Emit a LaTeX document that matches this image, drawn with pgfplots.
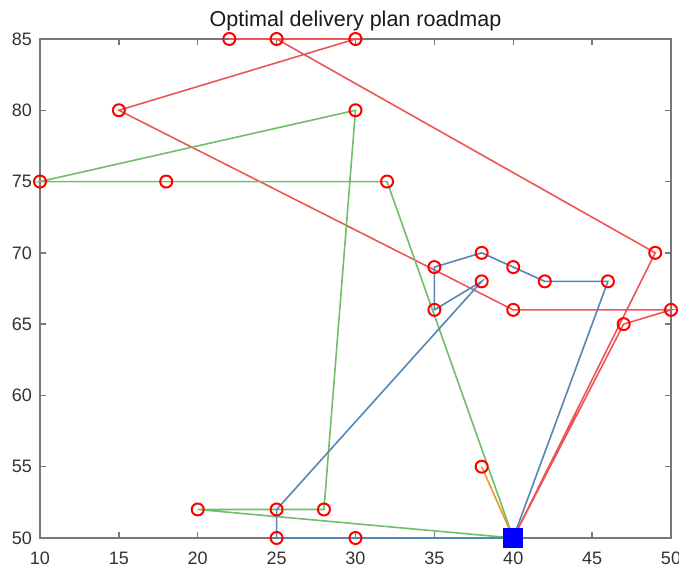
\documentclass[border=0pt]{standalone}
\usepackage{pgfplots}
\pgfplotsset{compat=1.18}
\usepackage{fontspec}
\setmainfont{Liberation Sans}

\definecolor{routeRed}{RGB}{236,86,86}
\definecolor{routeBlue}{RGB}{86,134,178}
\definecolor{routeGreen}{RGB}{112,190,104}
\definecolor{routeOrange}{RGB}{242,150,44}
\definecolor{axisgray}{RGB}{120,120,120}
\definecolor{labelgray}{RGB}{50,50,50}

\begin{document}
\begin{tikzpicture}
\begin{axis}[
  scale only axis,
  width=315.5pt, height=249.5pt,
  xmin=10, xmax=50, ymin=50, ymax=85,
  xtick={10,15,...,50}, ytick={50,55,...,85},
  tick align=inside,
  major tick length=3pt,
  xtick pos=both, ytick pos=both,
  xticklabel pos=bottom, yticklabel pos=left,
  axis line style={draw=axisgray, line width=1pt},
  every tick/.style={draw=axisgray, line width=0.7pt},
  tick label style={font=\fontsize{9}{10}\selectfont, text=labelgray},
  /pgf/number format/assume math mode=true,
  xticklabel style={yshift=-3.3pt},
  yticklabel style={xshift=-0.5pt},
  title={Optimal delivery plan roadmap},
  title style={font=\fontsize{10.75}{12}\selectfont, text=black!90,
    at={(0.5,1)}, anchor=base},
  clip=false,
  every axis plot/.append style={line width=0.8pt},
]
% vehicle routes, each starting and ending at the depot (40,50)
\addplot[routeRed, no markers] coordinates {
  (40,50) (47,65) (50,66) (40,66) (15,80) (30,85) (22,85) (25,85) (49,70) (40,50)
};
\addplot[routeGreen, no markers] coordinates {
  (40,50) (20,52) (28,52) (30,80) (10,75) (18,75) (32,75) (40,50)
};
\addplot[routeBlue, no markers] coordinates {
  (40,50) (30,50) (25,50) (25,52) (38,68) (35,66) (35,69) (38,70) (40,69) (42,68) (46,68) (40,50)
};
\addplot[routeOrange, no markers] coordinates {
  (40,50) (38,55) (40,50)
};
% customers
\addplot[only marks, mark=o, mark size=3pt, red, mark options={line width=1pt}] coordinates {
  (22,85) (25,85) (30,85)
  (15,80) (30,80)
  (10,75) (18,75) (32,75)
  (49,70) (35,69) (38,70) (40,69) (42,68) (46,68) (38,68)
  (35,66) (40,66) (50,66) (47,65)
  (38,55)
  (20,52) (25,52) (28,52)
  (25,50) (30,50)
};
% depot
\addplot[only marks, mark=square*, mark size=4.5pt, blue,
  mark options={fill=blue, draw=blue, rounded corners=1pt}] coordinates {(40,50)};
\coordinate (ll) at (rel axis cs:0,0);
\coordinate (ur) at (rel axis cs:1,1);
\end{axis}
\pgfresetboundingbox
\path[use as bounding box] ([shift={(-20pt,-15pt)}]ll) rectangle ([shift={(4pt,19.5pt)}]ur);
\end{tikzpicture}
\end{document}
